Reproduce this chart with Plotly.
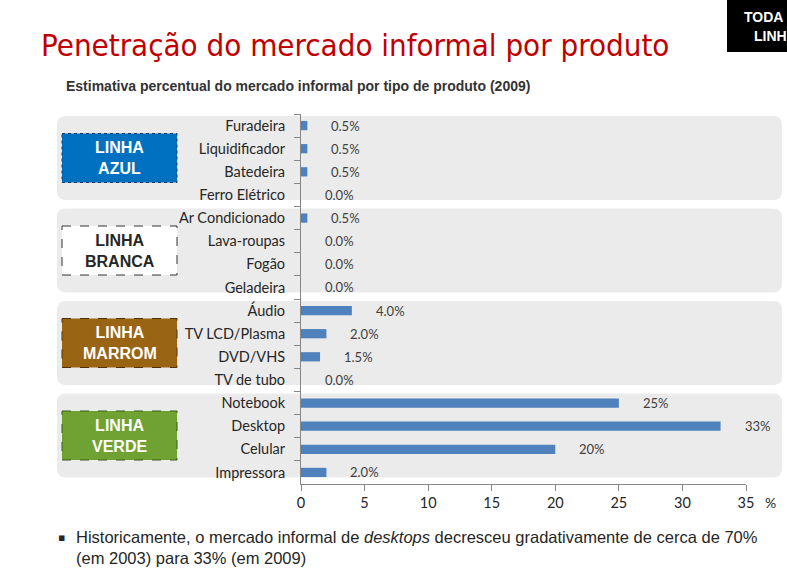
import plotly.graph_objects as go

# ---- DATA ----
products = ["Furadeira", "Liquidificador", "Batedeira", "Ferro Elétrico",
            "Ar Condicionado", "Lava-roupas", "Fogão", "Geladeira",
            "Áudio", "TV LCD/Plasma", "DVD/VHS", "TV de tubo",
            "Notebook", "Desktop", "Celular", "Impressora"]
informal_pct = [0.5, 0.5, 0.5, 0.0,
                0.5, 0.0, 0.0, 0.0,
                4.0, 2.0, 1.5, 0.0,
                25, 33, 20, 2.0]
group_names = ["LINHA<br>AZUL", "LINHA<br>BRANCA", "LINHA<br>MARROM", "LINHA<br>VERDE"]
group_sizes = [4, 4, 4, 4]
x_ticks = [0, 5, 10, 15, 20, 25, 30, 35]

# ---- GEOMETRY (pixels) ----
W, H = 787, 575
PL, PR, PT, PB = 301, 746, 114, 484          # plot area edges
ROW = (PB - PT) / len(products)


def px(p):
    return (p - PL) / (PR - PL)


def py(p):
    return (PB - p) / (PB - PT)


def rounded_path(x0, y0, x1, y1, r):
    # rounded rectangle in pixel space, converted to paper coords
    pts = [("M", x0 + r, y0), ("L", x1 - r, y0), ("Q", x1, y0, x1, y0 + r),
           ("L", x1, y1 - r), ("Q", x1, y1, x1 - r, y1), ("L", x0 + r, y1),
           ("Q", x0, y1, x0, y1 - r), ("L", x0, y0 + r), ("Q", x0, y0, x0 + r, y0)]
    out = []
    for seg in pts:
        nums = seg[1:]
        conv = [f"{px(nums[i]):.5f},{py(nums[i + 1]):.5f}" for i in range(0, len(nums), 2)]
        out.append(seg[0] + " " + " ".join(conv))
    return " ".join(out) + " Z"


def fmt(v):
    return f"{v:.0f}%" if v >= 10 else f"{v:.1f}%"


def note(x, y, text, font, xanchor="center", yanchor="middle", **kw):
    return dict(xref="paper", yref="paper", x=px(x), y=py(y), text=text,
                xanchor=xanchor, yanchor=yanchor, showarrow=False, font=font, **kw)


fig = go.Figure(go.Bar(
    x=informal_pct, y=products, orientation="h",
    marker=dict(color="#4F81BD", line=dict(width=0)),
    hoverinfo="x+y",
))

shapes = []
annotations = []

box_styles = [
    dict(fill="#0070C0", line="#1F3864", dash="dot", font="white"),
    dict(fill="white", line="#333333", dash="dash", font="#262626"),
    dict(fill="#996515", line="#4D3308", dash="dash", font="white"),
    dict(fill="#6FA232", line="#3A5A18", dash="dash", font="white"),
]

start = 0
for name, size, st in zip(group_names, group_sizes, box_styles):
    top = PT + start * ROW + 2
    bot = top + size * ROW - 8.5
    shapes.append(dict(type="path", xref="paper", yref="paper",
                       path=rounded_path(57, top, 782, bot, 9),
                       fillcolor="#EBEBEB", line=dict(width=0), layer="below"))
    mid = (top + bot) / 2
    shapes.append(dict(type="rect", xref="paper", yref="paper",
                       x0=px(62), x1=px(177), y0=py(mid - 24.5), y1=py(mid + 24.5),
                       fillcolor=st["fill"], line=dict(color=st["line"], width=1, dash=st["dash"]),
                       layer="above"))
    annotations.append(note(119.5, mid, f"<b>{name}</b>",
                            dict(family="Liberation Sans, Arial", size=16, color=st["font"])))
    start += size

# value labels
for p, v in zip(products, informal_pct):
    annotations.append(dict(x=v, y=p, xref="x", yref="y", text=fmt(v),
                            xanchor="left", yanchor="middle", xshift=22, showarrow=False,
                            font=dict(family="Lato", size=13, color="#404040")))

# top-right black tag (cropped in the original slide)
shapes.append(dict(type="rect", xref="paper", yref="paper",
                   x0=px(727), x1=px(790), y0=py(52), y1=py(-3),
                   fillcolor="black", line=dict(width=0)))
tag_font = dict(family="Liberation Sans, Arial", size=14, color="white")
annotations.append(note(742, 17, "<b>TODA</b>", tag_font, xanchor="left"))
annotations.append(note(752, 36, "<b>LINH</b>", tag_font, xanchor="left"))

# titles
annotations.append(note(39, 45, "Penetração do mercado informal por produto",
                        dict(family="DejaVu Sans Condensed, DejaVu Sans", size=31, color="#C00000"),
                        xanchor="left"))
annotations.append(note(64, 86, "<b>Estimativa percentual do mercado informal por tipo de produto (2009)</b>",
                        dict(family="Liberation Sans, Arial", size=14, color="#333333"),
                        xanchor="left"))
annotations.append(note(770, 503, "%", dict(family="Lato", size=14, color="#262626")))

# footnote
annotations.append(note(61, 537, "▪", dict(family="DejaVu Sans", size=11, color="#262626")))
annotations.append(note(74, 547,
                        "Historicamente, o mercado informal de <i>desktops</i> decresceu "
                        "gradativamente de cerca de 70%<br>(em 2003) para 33% (em 2009)",
                        dict(family="Liberation Sans, Arial", size=16.5, color="#262626"),
                        xanchor="left", align="left"))

fig.update_layout(
    width=W, height=H,
    margin=dict(l=PL, r=W - PR, t=PT, b=H - PB, pad=0),
    paper_bgcolor="white", plot_bgcolor="rgba(0,0,0,0)",
    bargap=0.6, showlegend=False,
    shapes=shapes, annotations=annotations,
    xaxis=dict(range=[0, 35], tickvals=x_ticks, showgrid=False, zeroline=False,
               showline=True, linecolor="#868686", linewidth=1,
               ticks="outside", ticklen=6, tickcolor="#868686",
               tickfont=dict(family="Lato", size=14.5, color="#262626")),
    yaxis=dict(type="category", categoryorder="array", categoryarray=products,
               autorange="reversed", tickson="boundaries", showgrid=False,
               showline=True, linecolor="#868686", linewidth=1,
               ticks="outside", ticklen=6, tickcolor="#868686",
               ticklabelstandoff=12,
               tickfont=dict(family="Lato", size=14.5, color="#262626")),
)

fig.write_html("out.html", config={"displayModeBar": False},
               post_script="document.body.style.margin='0';")
